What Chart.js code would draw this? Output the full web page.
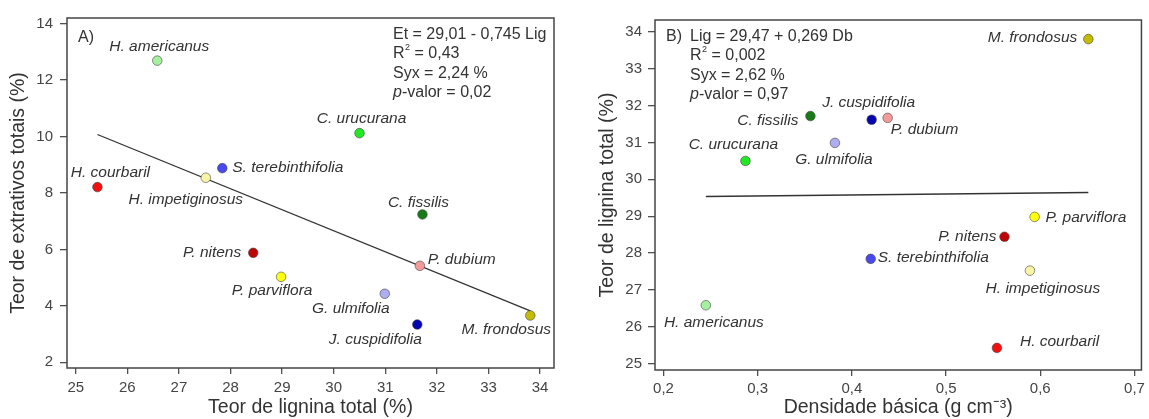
<!DOCTYPE html>
<html>
<head>
<meta charset="utf-8">
<script src="https://cdn.jsdelivr.net/npm/chart.js@4/dist/chart.umd.min.js"></script>
<style>
  html, body { margin: 0; padding: 0; background: #fff; }
  #wrap { position: relative; width: 1149px; height: 419px; }
  canvas { position: absolute; top: 0; }
  #chart-a { left: 0; }
  #chart-b { left: 589px; }
</style>
</head>
<body>
<div id="wrap">
  <canvas id="chart-a" width="575" height="419"></canvas>
  <canvas id="chart-b" width="560" height="419"></canvas>
</div>
<script>
// 樹種ごとの測定値
const species = ['H. americanus', 'H. courbaril', 'H. impetiginosus', 'S. terebinthifolia', 'C. urucurana', 'C. fissilis',
                 'P. nitens', 'P. parviflora', 'P. dubium', 'G. ulmifolia', 'J. cuspidifolia', 'M. frondosus'];
const lignina    = [26.58, 25.42, 27.52, 27.84, 30.50, 31.72, 28.44, 28.98, 31.67, 30.99, 31.62, 33.81];
const extrativos = [12.69, 8.21, 8.54, 8.88, 10.12, 7.24, 5.88, 5.03, 5.42, 4.43, 3.34, 3.66];
const densidade  = [0.245, 0.554, 0.589, 0.420, 0.287, 0.356, 0.562, 0.594, 0.438, 0.382, 0.421, 0.651];
const pointColors = ['#a4f0a0', '#f20f0f', '#f8f4a6', '#4848ee', '#22ea22', '#197a19',
                     '#bf0404', '#ffff0a', '#f59a9a', '#adadf2', '#0505b2', '#c4bb05'];

// 回帰式の係数 [切片, 傾き]
const regressaoA = [29.01, -0.745];
const regressaoB = [29.47, 0.269];

// 目盛り
const ticksLignina    = [25, 26, 27, 28, 29, 30, 31, 32, 33, 34];
const ticksExtrativos = [2, 4, 6, 8, 10, 12, 14];
const ticksDensidade  = [0.2, 0.3, 0.4, 0.5, 0.6, 0.7];

// 統計テキスト
const statsA = ['Et = 29,01 - 0,745 Lig', 'R2 = 0,43', 'Syx = 2,24 %', 'p-valor = 0,02'];
const statsB = ['Lig = 29,47 + 0,269 Db', 'R2 = 0,002', 'Syx = 2,62 %', 'p-valor = 0,97'];

const FONT = "'Liberation Sans', Arial, sans-serif";
const TEXT = '#333';

// ラベル位置 (点からのずれ)
const placeA = [[2, -14, 'center'], [13, -14, 'center'], [-20, 22, 'center'], [10, 0, 'left'], [2, -14, 'center'], [-4, -12, 'center'],
                [-12, 0, 'right'], [-9, 14, 'center'], [8, -6, 'left'], [-34, 15, 'center'], [-42, 15, 'center'], [-24, 14, 'center']];
const placeB = [[8, 17, 'center'], [23, -6, 'left'], [13, 18, 'center'], [7, -1, 'left'], [-12, -16, 'center'], [-12, 5, 'right'],
                [-8, 0, 'right'], [11, 1, 'left'], [3, 12, 'left'], [-1, 17, 'center'], [-3, -17, 'center'], [-11, -1, 'right']];

/**
 * 枠線・種名・統計テキストを描くプラグイン
 */
function panelPlugin(place, stats, tag, statsX, tagX, tagY) {
  return {
    id: 'panel',
    afterDatasetsDraw(chart) {
      const ctx = chart.ctx;
      const area = chart.chartArea;
      ctx.save();
      // 枠
      ctx.strokeStyle = '#454545';
      ctx.lineWidth = 1.5;
      ctx.strokeRect(area.left, area.top, area.right - area.left, area.bottom - area.top);

      // 種名
      const meta = chart.getDatasetMeta(0);
      ctx.font = `italic 15.5px ${FONT}`;
      ctx.fillStyle = TEXT;
      ctx.textBaseline = 'middle';
      meta.data.forEach((pt, i) => {
        const [dx, dy, align] = place[i];
        ctx.textAlign = align;
        ctx.fillText(species[i], pt.x + dx, pt.y + dy);
      });

      // パネル記号
      ctx.textAlign = 'left';
      ctx.font = `16px ${FONT}`;
      ctx.fillText(tag, tagX, tagY);

      // 統計
      stats.forEach((line, i) => {
        const y = area.top + 16.5 + i * 19.3;
        let x = statsX;
        if (line.startsWith('R2')) {
          ctx.font = `16px ${FONT}`;
          ctx.fillText('R', x, y);
          x += ctx.measureText('R').width;
          ctx.font = `9px ${FONT}`;
          ctx.fillText('2', x + 0.5, y - 6);
          x += ctx.measureText('2').width + 0.5;
          ctx.font = `16px ${FONT}`;
          ctx.fillText(line.slice(2), x, y);
        } else if (line.startsWith('p-')) {
          ctx.font = `italic 16px ${FONT}`;
          ctx.fillText('p', x, y);
          x += ctx.measureText('p').width;
          ctx.font = `16px ${FONT}`;
          ctx.fillText(line.slice(1), x, y);
        } else {
          ctx.font = `16px ${FONT}`;
          ctx.fillText(line, x, y);
        }
      });
      ctx.restore();
    }
  };
}

/**
 * 軸設定
 */
function axis(opts) {
  return {
    type: 'linear',
    position: opts.position,
    min: opts.min,
    max: opts.max,
    afterBuildTicks: s => { s.ticks = opts.ticks.map(v => ({ value: v })); },
    afterFit: s => { if (opts.width) s.width = opts.width; if (opts.height) s.height = opts.height; },
    border: { display: false },
    grid: { drawOnChartArea: false, drawTicks: true, tickLength: opts.tickLength, color: '#505050', lineWidth: 1.3 },
    ticks: {
      autoSkip: false,
      maxRotation: 0,
      padding: opts.padding,
      color: '#444',
      font: { family: FONT, size: 15 },
      callback: opts.format || (v => v)
    },
    title: {
      display: true,
      text: opts.title,
      color: TEXT,
      font: { family: FONT, size: 19.5 },
      padding: opts.titlePadding
    }
  };
}

function regressionLine(coef, xs) {
  const lo = Math.min(...xs), hi = Math.max(...xs);
  return [lo, hi].map(x => ({ x: x, y: coef[0] + coef[1] * x }));
}

function commaFmt(v) {
  return v.toFixed(1).replace('.', ',');
}

/**
 * A) 抽出物含有量 vs リグニン含有量
 */
function initChartA() {
  const ctx = document.getElementById('chart-a').getContext('2d');
  new Chart(ctx, {
    type: 'scatter',
    data: {
      datasets: [{
        data: lignina.map((x, i) => ({ x: x, y: extrativos[i] })),
        backgroundColor: pointColors,
        borderColor: 'rgba(70,70,70,0.75)',
        borderWidth: 0.8,
        pointRadius: 4.8
      }, {
        type: 'line',
        data: regressionLine(regressaoA, lignina),
        borderColor: '#333',
        borderWidth: 1.3,
        pointRadius: 0,
        fill: false
      }]
    },
    options: {
      responsive: false,
      animation: false,
      layout: { padding: { left: 0, top: 18, right: 21, bottom: 0 } },
      plugins: { legend: { display: false }, tooltip: { enabled: false } },
      scales: {
        x: axis({ position: 'bottom', min: 24.83, max: 34.27, ticks: ticksLignina, height: 51, tickLength: 6, padding: 5,
                  title: 'Teor de lignina total (%)', titlePadding: { top: 0, bottom: 0 } }),
        y: axis({ position: 'left', min: 1.8, max: 14.2, ticks: ticksExtrativos, width: 67, tickLength: 7, padding: 7,
                  title: 'Teor de extrativos totais (%)', titlePadding: { top: 7, bottom: 0 } })
      }
    },
    plugins: [panelPlugin(placeA, statsA, 'A)', 393, 78, 38)]
  });
}

/**
 * B) リグニン含有量 vs 基本密度
 */
function initChartB() {
  const ctx = document.getElementById('chart-b').getContext('2d');
  new Chart(ctx, {
    type: 'scatter',
    data: {
      datasets: [{
        data: densidade.map((x, i) => ({ x: x, y: lignina[i] })),
        backgroundColor: pointColors,
        borderColor: 'rgba(70,70,70,0.75)',
        borderWidth: 0.8,
        pointRadius: 4.8
      }, {
        type: 'line',
        data: regressionLine(regressaoB, densidade),
        borderColor: '#333',
        borderWidth: 1.5,
        pointRadius: 0,
        fill: false
      }]
    },
    options: {
      responsive: false,
      animation: false,
      layout: { padding: { left: 0, top: 20, right: 7, bottom: 0 } },
      plugins: { legend: { display: false }, tooltip: { enabled: false } },
      scales: {
        x: axis({ position: 'bottom', min: 0.191, max: 0.7074, ticks: ticksDensidade, height: 49, tickLength: 6, padding: 4,
                  title: 'Densidade básica (g cm⁻³)', titlePadding: { top: 0, bottom: 0 }, format: commaFmt }),
        y: axis({ position: 'left', min: 24.82, max: 34.33, ticks: ticksLignina, width: 66, tickLength: 7, padding: 6,
                  title: 'Teor de lignina total (%)', titlePadding: { top: 7, bottom: 0 } })
      }
    },
    plugins: [panelPlugin(placeB, statsB, 'B)', 101, 77, 37)]
  });
}

initChartA();
initChartB();
</script>
</body>
</html>
